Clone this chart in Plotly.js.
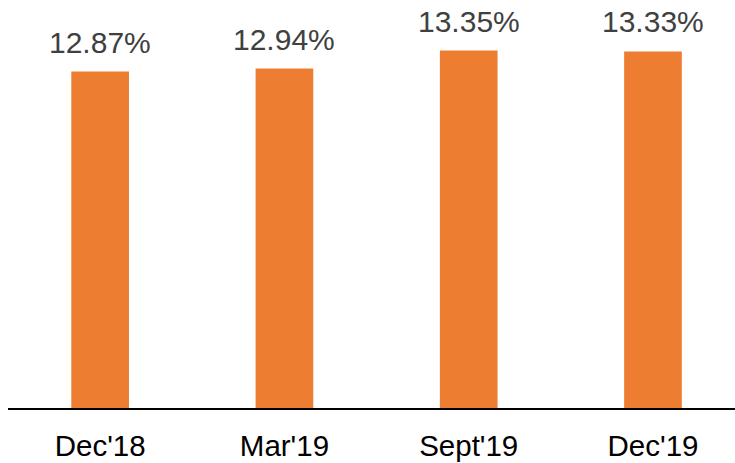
<!DOCTYPE html>
<html>
<head>
<meta charset="utf-8">
<script src="https://cdn.plot.ly/plotly-3.0.1.min.js"></script>
<style>html,body{margin:0;padding:0;background:#fff;}#chart{width:735px;height:463px;}</style>
</head>
<body>
<div id="chart"></div>
<script>
const categories = ["Dec'18", "Mar'19", "Sept'19", "Dec'19"];
const values = [12.87, 12.94, 13.35, 13.33];
const valueLabels = ["12.87%", "12.94%", "13.35%", "13.33%"];

const trace = {
  type: 'bar',
  x: categories,
  y: values,
  marker: {color: '#ED7D31'},
  width: 0.313,
  hoverinfo: 'none'
};

const annotations = categories.map((c, i) => ({
  x: c,
  y: values[i],
  xref: 'x',
  yref: 'y',
  text: valueLabels[i],
  showarrow: false,
  xanchor: 'center',
  yanchor: 'bottom',
  yshift: 11,
  font: {family: 'Liberation Sans, Arial, sans-serif', size: 30, color: '#404040'}
}));

const layout = {
  width: 735,
  height: 463,
  margin: {l: 8, r: 0, t: 0, b: 55},
  paper_bgcolor: '#ffffff',
  plot_bgcolor: '#ffffff',
  showlegend: false,
  annotations: annotations,
  xaxis: {
    type: 'category',
    range: [-0.5, 3.445],
    showline: true,
    linecolor: '#000000',
    linewidth: 2,
    ticks: '',
    ticklabelstandoff: 11,
    showgrid: false,
    zeroline: false,
    tickfont: {family: 'Liberation Sans, Arial, sans-serif', size: 29.5, color: '#000000'}
  },
  yaxis: {
    range: [5.18, 14.506],
    visible: false,
    showgrid: false,
    zeroline: false
  }
};

Plotly.newPlot('chart', [trace], layout, {staticPlot: true, displayModeBar: false});
</script>
</body>
</html>
